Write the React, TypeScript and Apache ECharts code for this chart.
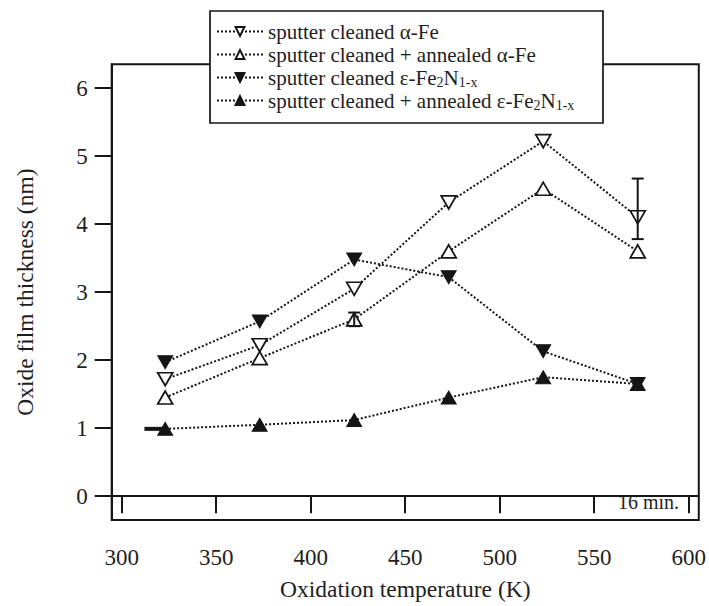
import React, { useEffect, useRef } from "react";
import * as echarts from "echarts";

const temperatures = [323, 373, 423, 473, 523, 573];
const alphaSputter = [1.72, 2.22, 3.05, 4.32, 5.22, 4.1];
const alphaAnnealed = [1.45, 2.03, 2.6, 3.6, 4.52, 3.6];
const epsSputter = [1.97, 2.57, 3.48, 3.22, 2.13, 1.65];
const epsAnnealed = [0.99, 1.05, 1.12, 1.45, 1.75, 1.65];

const seriesNames = [
  "sputter cleaned α-Fe",
  "sputter cleaned + annealed α-Fe",
  "sputter cleaned ε-Fe2N1-x",
  "sputter cleaned + annealed ε-Fe2N1-x",
];
const legendRich: Record<string, string> = {
  "sputter cleaned α-Fe": "{t|sputter cleaned α-Fe}",
  "sputter cleaned + annealed α-Fe": "{t|sputter cleaned + annealed α-Fe}",
  "sputter cleaned ε-Fe2N1-x": "{t|sputter cleaned ε-Fe}{s|2}{t|N}{s|1-x}",
  "sputter cleaned + annealed ε-Fe2N1-x": "{t|sputter cleaned + annealed ε-Fe}{s|2}{t|N}{s|1-x}",
};

const xTicks = [300, 350, 400, 450, 500, 550, 600];
const yTicks = [0, 1, 2, 3, 4, 5, 6];

// vertical error bars: temperature, low, high
const errTemps = [573, 423];
const errLow = [3.78, 2.5];
const errHigh = [4.67, 2.7];
// short horizontal bar at the first annealed nitride point
const hErrY = [0.99];
const hErrFrom = [312];
const hErrTo = [323];

const FONT = "Liberation Serif, DejaVu Serif, serif";
const INK = "#151515";
const TXT = "#1e1e1e";
const DOWN = "path://M0,0 L10,0 L5,9 Z";
const UP = "path://M5,0 L10,9 L0,9 Z";

export default function App() {
  const ref = useRef<HTMLDivElement>(null);
  useEffect(() => {
    if (!ref.current) return;
    const chart = echarts.init(ref.current, undefined, { renderer: "svg" });
    const lineStyle = { color: INK, width: 2, type: [2, 2] as any };
    const mk = (name: string, vals: number[], symbol: string, filled: boolean) => ({
      name,
      type: "line",
      data: temperatures.map((t, i) => [t, vals[i]]),
      symbol,
      symbolSize: [15, 13],
      showSymbol: true,
      lineStyle,
      itemStyle: filled
        ? { color: INK, borderColor: INK, borderWidth: 1 }
        : { color: "#fff", borderColor: INK, borderWidth: 1.7 },
      z: 2,
    });
    chart.setOption({
      animation: false,
      grid: {
        left: 111.7,
        right: 10,
        top: 64.3,
        bottom: 82.3,
        show: true,
        borderColor: INK,
        borderWidth: 2,
      },
      xAxis: {
        type: "value",
        min: 294.7,
        max: 605.3,
        name: "Oxidation temperature (K)",
        nameLocation: "middle",
        nameGap: 57,
        nameTextStyle: { fontFamily: FONT, fontSize: 23.5, color: TXT },
        axisLine: { show: true, lineStyle: { color: INK, width: 2 } },
        axisTick: { show: true, inside: false, length: 17, customValues: xTicks, lineStyle: { color: INK, width: 2 } },
        axisLabel: { customValues: xTicks, margin: 26, fontFamily: FONT, fontSize: 23, color: TXT },
        splitLine: { show: false },
      },
      yAxis: {
        type: "value",
        min: -0.35,
        max: 6.35,
        name: "Oxide film thickness (nm)",
        nameLocation: "middle",
        nameGap: 75,
        nameTextStyle: { fontFamily: FONT, fontSize: 23.5, color: TXT },
        axisLine: { show: true, lineStyle: { color: INK, width: 2 } },
        axisTick: { show: true, inside: false, length: 17, customValues: yTicks, lineStyle: { color: INK, width: 2 } },
        axisLabel: { customValues: yTicks, margin: 24, fontFamily: FONT, fontSize: 23, color: TXT },
        splitLine: { show: false },
      },
      legend: {
        data: seriesNames,
        orient: "vertical",
        left: 210,
        top: 11,
        padding: [9, 6, 11, 6],
        itemWidth: 46,
        itemHeight: 11,
        itemGap: 0,
        z: 10,
        formatter: (n: string) => legendRich[n] || n,
        textStyle: {
          fontFamily: FONT,
          fontSize: 21,
          lineHeight: 23,
          color: TXT,
          rich: {
            t: { fontFamily: FONT, fontSize: 21, color: TXT, lineHeight: 23 },
            s: { fontFamily: FONT, fontSize: 14, color: TXT, lineHeight: 14, verticalAlign: "bottom" },
          },
        },
      },
      graphic: [
        {
          type: "rect",
          z: 5,
          shape: { x: 210, y: 11, width: 393, height: 112 },
          style: { fill: "#fff", stroke: INK, lineWidth: 1.7 },
        },
        {
          type: "text",
          x: 618,
          y: 502,
          style: { text: "16 min.", fontFamily: FONT, fontSize: 20, fill: TXT, verticalAlign: "middle" },
        },
      ],
      series: [
        mk(seriesNames[0], alphaSputter, DOWN, false),
        mk(seriesNames[1], alphaAnnealed, UP, false),
        mk(seriesNames[2], epsSputter, DOWN, true),
        mk(seriesNames[3], epsAnnealed, UP, true),
        {
          type: "custom",
          name: "errV",
          z: 4,
          data: errTemps.map((t, i) => [t, errLow[i], errHigh[i]]),
          renderItem: (_p: any, api: any) => {
            const t = api.value(0);
            const a = api.coord([t, api.value(1)]);
            const b = api.coord([t, api.value(2)]);
            const w = 6;
            const st = { stroke: INK, lineWidth: 2 };
            return {
              type: "group",
              children: [
                { type: "line", shape: { x1: a[0], y1: a[1], x2: b[0], y2: b[1] }, style: st },
                { type: "line", shape: { x1: a[0] - w, y1: a[1], x2: a[0] + w, y2: a[1] }, style: st },
                { type: "line", shape: { x1: b[0] - w, y1: b[1], x2: b[0] + w, y2: b[1] }, style: st },
              ],
            };
          },
        },
        {
          type: "custom",
          name: "errH",
          z: 1,
          data: hErrY.map((y, i) => [hErrFrom[i], hErrTo[i], y]),
          renderItem: (_p: any, api: any) => {
            const a = api.coord([api.value(0), api.value(2)]);
            const b = api.coord([api.value(1), api.value(2)]);
            return {
              type: "line",
              shape: { x1: a[0], y1: a[1], x2: b[0], y2: b[1] },
              style: { stroke: INK, lineWidth: 4 },
            };
          },
        },
      ],
    });
    return () => chart.dispose();
  }, []);
  return (
    <div
      ref={ref}
      style={{ position: "fixed", left: 0, top: 0, width: 709, height: 606, background: "#fff" }}
    />
  );
}
